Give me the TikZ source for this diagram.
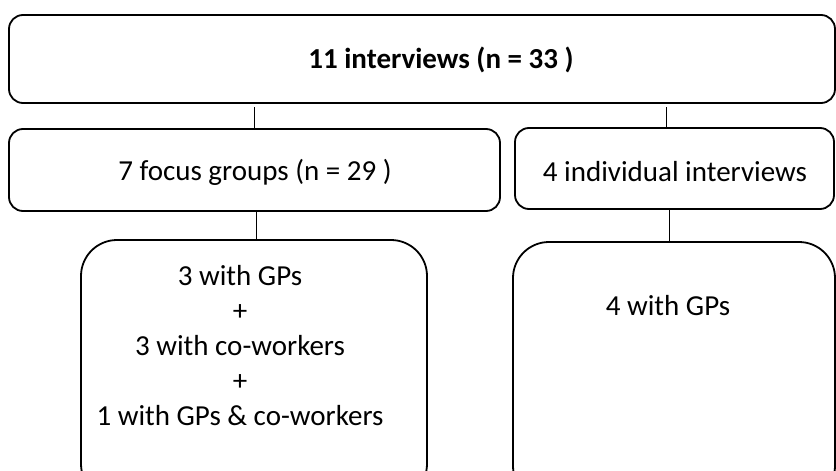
\documentclass[tikz,border=0pt]{standalone}
\usepackage{fontspec}
\setmainfont{Carlito}
\begin{document}
\begin{tikzpicture}[x=1pt,y=-1pt,
  box/.style={draw=black, line width=1.8pt, rounded corners=14pt, inner sep=0pt},
  bigbox/.style={draw=black, line width=1.8pt, rounded corners=36pt, inner sep=0pt},
  txt/.style={inner sep=0pt, font=\fontsize{29}{35}\selectfont, align=center},
  link/.style={draw=black, line width=0.8pt}]
\useasboundingbox (0,0) rectangle (836,471);
\clip (0,0) rectangle (836,471);

% boxes
\node[box, minimum width=826pt, minimum height=88pt] (top) at (422,59) {};
\node[box, minimum width=491pt, minimum height=82pt] (focus) at (254.5,170) {};
\node[box, minimum width=319pt, minimum height=81pt] (ind) at (674.5,168.5) {};
\node[bigbox, minimum width=346pt, minimum height=260pt] (fgd) at (254,370) {};
\node[bigbox, minimum width=322pt, minimum height=260pt] (ivd) at (674,372) {};

% texts
\node[txt, font=\fontsize{29}{35}\selectfont\bfseries] (ttop) at (441,60) {11 interviews (n = 33 )};
\node[txt] (tfocus) at (255,172) {7 focus groups (n = 29 )};
\node[txt] (tind) at (675,172) {4 individual interviews};
\node[txt] (tfgd) at (240,346) {3 with GPs\\+\\3 with co-workers\\+\\1 with GPs \& co-workers};
\node[txt] (tivd) at (668,306) {4 with GPs};

% connectors
\draw[link] (focus.north) -- ([yshift=-3pt]focus.north |- top.south);
\draw[link] ([xshift=-8.5pt]ind.north) -- ([xshift=-8.5pt,yshift=-3pt]ind.north |- top.south);
\draw[link] ([xshift=1.5pt]focus.south) -- ([xshift=1.5pt]focus.south |- fgd.north);
\draw[link] ([xshift=-5.5pt]ind.south) -- ([xshift=-5.5pt]ind.south |- ivd.north);
\end{tikzpicture}
\end{document}
